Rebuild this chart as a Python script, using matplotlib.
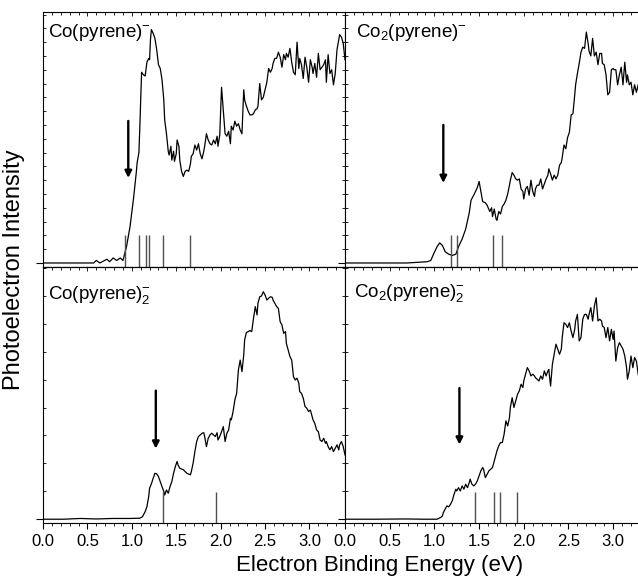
"""
Photoelectron spectra of Co(pyrene) and Co2(pyrene) anion clusters,
four panels sharing the binding energy axis.
"""

import matplotlib.pyplot as plt
import numpy
from matplotlib.ticker import MultipleLocator, FormatStrFormatter

plt.rcParams['font.family'] = ['Liberation Sans', 'DejaVu Sans']
plt.rcParams['mathtext.fontset'] = 'custom'
plt.rcParams['mathtext.rm'] = 'Liberation Sans'
plt.rcParams['mathtext.it'] = 'Liberation Sans:italic'

# Co(pyrene)-  (energy in eV, intensity in arb. units)
e_co_py = [0.00, 0.23, 0.42, 0.57, 0.60, 0.64, 0.72, 0.75, 0.79, 0.83, 0.87, 0.90,
           0.94, 0.98, 1.02, 1.05, 1.06, 1.08, 1.09, 1.11, 1.13, 1.15, 1.17, 1.19,
           1.20, 1.21, 1.22, 1.24, 1.26, 1.28, 1.30, 1.32, 1.34, 1.36, 1.37, 1.39,
           1.41, 1.42, 1.44, 1.45, 1.47, 1.48, 1.50, 1.51, 1.53, 1.54, 1.56, 1.58,
           1.60, 1.62, 1.64, 1.66, 1.67, 1.69, 1.71, 1.73, 1.75, 1.77, 1.79, 1.81,
           1.82, 1.84, 1.86, 1.88, 1.90, 1.92, 1.94, 1.96, 1.97, 1.99, 2.01, 2.03,
           2.05, 2.07, 2.09, 2.11, 2.12, 2.14, 2.16, 2.18, 2.20, 2.22, 2.24, 2.26,
           2.27, 2.29, 2.31, 2.33, 2.35, 2.37, 2.39, 2.41, 2.42, 2.44, 2.46, 2.48,
           2.50, 2.52, 2.54, 2.56, 2.58, 2.59, 2.61, 2.63, 2.65, 2.67, 2.69, 2.71,
           2.73, 2.74, 2.76, 2.78, 2.80, 2.82, 2.84, 2.86, 2.88, 2.89, 2.91, 2.93,
           2.95, 2.97, 2.99, 3.01, 3.03, 3.04, 3.06, 3.08, 3.10, 3.12, 3.14, 3.16,
           3.18, 3.19, 3.21, 3.23, 3.25, 3.27, 3.29, 3.31, 3.33, 3.34, 3.36, 3.38,
           3.40]
i_co_py = [0, 0, 0, 0, 1, 0, 1.5, 0.5, 2, 1, 2, 1,
           6.5, 14.5, 26, 36, 40, 44, 54, 76, 75, 74.5, 80, 81.5,
           81, 89, 93, 91.5, 89.5, 85, 79, 77.5, 73, 65, 57, 51.5,
           44.5, 43, 46.5, 41, 44.5, 40.5, 43.5, 49, 46.5, 41, 36.5, 34.5,
           36.5, 37, 36.5, 39.5, 42.5, 43.5, 47, 45, 47.5, 43.5, 41.5, 44.5,
           46.5, 51.5, 49, 47.5, 47, 49, 47.5, 50.5, 46.5, 51, 70, 61,
           51.5, 50.5, 52.5, 47.5, 54.5, 53, 56.5, 54.5, 55.5, 53, 51.5, 69,
           65, 62.5, 60.5, 59, 59, 59.5, 61, 61.5, 62.5, 71.5, 65, 66,
           69, 72, 77.5, 76, 77.5, 79.5, 81.5, 81.5, 84, 82, 78, 83,
           81, 83.5, 82, 85.5, 80, 76, 75, 88, 77.5, 81.5, 79, 73.5,
           82, 78, 72, 81, 78, 75.5, 79.5, 74, 83.5, 77, 78, 79,
           81, 72, 83, 75.5, 77, 71, 75.5, 85, 89, 91, 90, 87.5,
           81]

# Co2(pyrene)-
e_co2_py = [0.00, 0.32, 0.69, 0.92, 0.96, 0.99, 1.03, 1.06, 1.09, 1.12, 1.16, 1.20,
            1.24, 1.27, 1.31, 1.35, 1.39, 1.41, 1.44, 1.48, 1.50, 1.52, 1.54, 1.57,
            1.59, 1.62, 1.64, 1.65, 1.67, 1.69, 1.70, 1.72, 1.74, 1.76, 1.78, 1.80,
            1.82, 1.84, 1.85, 1.87, 1.89, 1.91, 1.93, 1.95, 1.97, 1.99, 2.00, 2.02,
            2.04, 2.06, 2.08, 2.10, 2.12, 2.13, 2.15, 2.17, 2.19, 2.21, 2.23, 2.25,
            2.27, 2.28, 2.30, 2.32, 2.34, 2.36, 2.38, 2.40, 2.42, 2.43, 2.45, 2.47,
            2.49, 2.51, 2.53, 2.55, 2.57, 2.58, 2.60, 2.62, 2.64, 2.66, 2.68, 2.70,
            2.72, 2.73, 2.75, 2.77, 2.79, 2.81, 2.83, 2.85, 2.87, 2.88, 2.90, 2.92,
            2.94, 2.96, 2.98, 3.00, 3.01, 3.03, 3.05, 3.07, 3.09, 3.11, 3.13, 3.15,
            3.16, 3.18, 3.20, 3.22, 3.24, 3.26, 3.28]
i_co2_py = [0, 0, 0, 0.5, 1, 3.5, 6.5, 8, 7, 4.5, 3.5, 3,
            3.5, 6.5, 9.5, 13.5, 20, 25, 27, 30, 32.5, 28.5, 24.5, 24,
            23, 20.5, 22, 18.5, 21.5, 17.5, 17, 20.5, 19.5, 22.5, 23.5, 25,
            27.5, 31, 33, 36, 35, 33.5, 33, 33.5, 29.5, 28.5, 25.5, 29.5,
            30.5, 27, 33, 28.5, 26.5, 29.5, 31, 31, 33.5, 29.5, 31.5, 33.5,
            35, 37.5, 35.5, 33, 35, 33.5, 35, 39, 40, 42, 47, 45.5,
            50, 52, 59, 59.5, 67, 71, 75.5, 79.5, 84, 86, 85.5, 92,
            87.5, 84.5, 82.5, 89.5, 82.5, 84, 79, 83.5, 83.5, 79.5, 79, 75,
            67, 68, 77, 77.5, 77, 77, 71, 75, 78, 71, 80, 72,
            75, 71, 72, 67, 71, 68, 71]

# Co(pyrene)2-
e_co_py2 = [0.00, 0.23, 0.42, 0.60, 0.79, 0.98, 1.09, 1.12, 1.15, 1.17, 1.19, 1.20,
            1.22, 1.24, 1.26, 1.28, 1.30, 1.32, 1.34, 1.36, 1.37, 1.39, 1.41, 1.43,
            1.45, 1.47, 1.49, 1.51, 1.52, 1.54, 1.58, 1.62, 1.66, 1.67, 1.69, 1.71,
            1.73, 1.75, 1.77, 1.79, 1.81, 1.82, 1.84, 1.86, 1.88, 1.90, 1.92, 1.94,
            1.96, 1.97, 1.99, 2.01, 2.03, 2.05, 2.07, 2.09, 2.11, 2.12, 2.14, 2.16,
            2.18, 2.20, 2.22, 2.24, 2.26, 2.27, 2.29, 2.31, 2.33, 2.35, 2.37, 2.39,
            2.41, 2.42, 2.44, 2.46, 2.48, 2.50, 2.52, 2.54, 2.56, 2.58, 2.59, 2.61,
            2.63, 2.65, 2.67, 2.69, 2.71, 2.73, 2.74, 2.76, 2.78, 2.80, 2.82, 2.84,
            2.86, 2.88, 2.89, 2.91, 2.93, 2.95, 2.97, 2.99, 3.01, 3.03, 3.04, 3.06,
            3.08, 3.10, 3.12, 3.14, 3.16, 3.18, 3.19, 3.21, 3.23, 3.25, 3.27, 3.29,
            3.31, 3.33, 3.34, 3.36, 3.38, 3.40]
i_co_py2 = [0, 0, 0.3, 0.1, 0.3, 0.3, 0.4, 1, 3, 5, 9, 12.3,
            14, 16.2, 18.2, 18, 16.9, 14.9, 12.9, 11, 9.6, 11.6, 10.3, 12.9,
            14.9, 18.2, 20.9, 22.9, 21.5, 20.2, 19.6, 18.2, 17.6, 18.9, 22.2, 26.8,
            30.8, 32.8, 33.4, 34.1, 34.3, 32.8, 28.8, 32.1, 33.4, 34.1, 33.4, 32.8,
            34.3, 31.4, 32.8, 34.7, 36.7, 30.8, 34.1, 35.4, 40, 39.4, 42.7, 47.3,
            49.9, 59.2, 63.1, 58.5, 65.1, 71.1, 74, 74.4, 74.8, 74.4, 79.7, 84.3,
            81, 85.6, 88.2, 88.5, 90.2, 88.9, 86.9, 87.6, 88.2, 88, 86.9, 85.6,
            84.3, 83.6, 78.3, 77, 73.7, 74.4, 69.7, 67.1, 64.5, 63.1, 56.5, 55.2,
            55.9, 53.9, 50.6, 49.9, 48, 44.7, 44, 42.7, 43.3, 40.7, 39.4, 38,
            35.4, 34.7, 31.4, 30.8, 32.1, 30.1, 30.8, 28.8, 27.5, 28.8, 26.8, 28.1,
            29.5, 27.5, 29.5, 30.8, 28.8, 25.5]

# Co2(pyrene)2-
e_co2_py2 = [0.00, 0.32, 0.69, 0.88, 1.03, 1.07, 1.09, 1.10, 1.12, 1.14, 1.16, 1.18,
             1.20, 1.22, 1.24, 1.25, 1.27, 1.29, 1.31, 1.33, 1.35, 1.37, 1.39, 1.40,
             1.42, 1.44, 1.46, 1.48, 1.50, 1.52, 1.54, 1.55, 1.57, 1.59, 1.61, 1.63,
             1.65, 1.67, 1.69, 1.70, 1.72, 1.74, 1.76, 1.78, 1.80, 1.82, 1.84, 1.85,
             1.87, 1.89, 1.91, 1.93, 1.95, 1.97, 1.99, 2.00, 2.02, 2.04, 2.06, 2.08,
             2.10, 2.12, 2.13, 2.15, 2.17, 2.19, 2.21, 2.23, 2.25, 2.27, 2.28, 2.30,
             2.32, 2.34, 2.36, 2.38, 2.40, 2.42, 2.43, 2.45, 2.47, 2.49, 2.51, 2.53,
             2.55, 2.57, 2.58, 2.60, 2.62, 2.64, 2.66, 2.68, 2.70, 2.72, 2.73, 2.75,
             2.77, 2.79, 2.81, 2.83, 2.85, 2.87, 2.88, 2.90, 2.92, 2.94, 2.96, 2.98,
             3.00, 3.01, 3.03, 3.05, 3.07, 3.09, 3.11, 3.13, 3.15, 3.16, 3.18, 3.20,
             3.22, 3.24, 3.26, 3.28, 3.30]
i_co2_py2 = [0, 0, 0.1, 0, 0, 0.7, 1.3, 2.6, 4, 5.3, 4.9, 5.9,
             7.3, 9.9, 11.9, 11.2, 12.5, 11.2, 13.2, 11.9, 13.9, 12.5, 14.5, 15.9,
             13.9, 13.2, 13.9, 15.2, 17.2, 19.2, 20.5, 19.8, 16.5, 17.8, 19.2, 19.8,
             20.5, 23.1, 25.8, 27.1, 29.1, 30.4, 30.4, 33.7, 39, 37, 40.3, 44.3,
             48.2, 44.3, 46.9, 49.5, 50.9, 53.5, 52.2, 54.8, 57.5, 60.1, 58.8, 56.8,
             57.5, 56.8, 56.1, 55.5, 54.8, 56.8, 55.5, 58.8, 56.8, 58.8, 59.4, 52.8,
             61.4, 65.4, 69.4, 67.4, 65.4, 67.4, 72, 77.9, 77.3, 76, 77.9, 74.6,
             72, 75.3, 78.6, 81.2, 70.7, 72, 79.3, 81.2, 81.2, 79.3, 81.2, 83.9,
             78.6, 84.5, 87.8, 78.6, 79.3, 78.6, 76.6, 76, 72, 76, 70.7, 75.3,
             71.3, 74.6, 62.7, 68, 70, 68.7, 67.4, 64.7, 60.1, 55.5, 58.8, 64.7,
             60.1, 64.1, 62.7, 57.5, 54.2]

# calculated detachment energies (sticks) and experimental thresholds (arrows), eV
sticks_co_py = [0.92, 1.08, 1.16, 1.19, 1.35, 1.66]
sticks_co2_py = [1.19, 1.25, 1.66, 1.76]
sticks_co_py2 = [1.35, 1.95]
sticks_co2_py2 = [1.45, 1.67, 1.73, 1.92]
arrows_e = [0.96, 1.10, 1.27, 1.28]

labels = ['Co(pyrene)$^{-}$', 'Co$_{2}$(pyrene)$^{-}$',
          'Co(pyrene)$_{2}^{-}$', 'Co$_{2}$(pyrene)$_{2}^{-}$']

fig = plt.figure(figsize=(6.38, 5.77), dpi=100)
W, H = 638.0, 577.0
pw = 302 / W
boxes = [[43 / W, 310 / H, pw, 255 / H],
         [345 / W, 310 / H, pw + 0.003, 255 / H],
         [43 / W, 54 / H, pw, 256 / H],
         [345 / W, 54 / H, pw + 0.003, 256 / H]]

energies = [e_co_py, e_co2_py, e_co_py2, e_co2_py2]
intens = [i_co_py, i_co2_py, i_co_py2, i_co2_py2]
sticks = [sticks_co_py, sticks_co2_py, sticks_co_py2, sticks_co2_py2]
arrow_y = [(56.6, 33.9), (55.0, 31.9), (51.0, 28.0), (52.0, 29.6)]
label_pos = [(0.015, 0.92), (0.035, 0.92), (0.015, 0.89), (0.028, 0.90)]

for k in range(4):
    ax = fig.add_axes(boxes[k])
    top = k < 2
    ylo = -1.6 if top else -1.5
    ax.plot(energies[k], intens[k], color='black', lw=0.9)
    ax.vlines(sticks[k], ylo, 11.2 if top else 10.6, color='#505050', lw=1.0)
    ax.annotate('', xy=(arrows_e[k], arrow_y[k][1]), xytext=(arrows_e[k], arrow_y[k][0]),
                arrowprops=dict(arrowstyle='-|>', color='black', lw=1.7,
                                mutation_scale=10, shrinkA=0, shrinkB=0))
    ax.text(label_pos[k][0], label_pos[k][1], labels[k], transform=ax.transAxes,
            fontsize=13.5, ha='left', va='center')
    ax.set_xlim(0, 3.4)
    ax.set_ylim(ylo, 100)

    for sp in ax.spines.values():
        sp.set_linewidth(0.8)

    # y ticks: one at the baseline, dense minor ones above it
    step = 5.5 if top else 11.07
    ax.set_yticks([0])
    ax.set_yticks(numpy.arange(step, 100, step), minor=True)
    ax.tick_params(axis='y', which='both', left=True, right=True,
                   labelleft=False, labelright=False)
    ax.tick_params(axis='y', which='major', direction='out', length=5, width=0.8)
    ax.tick_params(axis='y', which='minor', direction='in', length=2.2, width=0.6)

    ax.xaxis.set_major_locator(MultipleLocator(0.5))
    ax.xaxis.set_minor_locator(MultipleLocator(0.1))
    if top:
        ax.tick_params(axis='x', which='both', top=True, bottom=False,
                       labelbottom=False, direction='in', width=0.6)
        ax.tick_params(axis='x', which='major', length=3)
        ax.tick_params(axis='x', which='minor', length=2)
    else:
        ax.xaxis.set_major_formatter(FormatStrFormatter('%.1f'))
        ax.tick_params(axis='x', which='both', top=False, direction='out',
                       labelsize=12, pad=4)
        ax.tick_params(axis='x', which='major', length=4, width=0.8)
        ax.tick_params(axis='x', which='minor', length=2.5, width=0.6)
        sec = ax.secondary_xaxis('top')
        sec.xaxis.set_major_locator(MultipleLocator(0.5))
        sec.xaxis.set_minor_locator(MultipleLocator(0.1))
        sec.tick_params(axis='x', which='both', direction='in', labeltop=False,
                        width=0.6)
        sec.tick_params(axis='x', which='major', length=3)
        sec.tick_params(axis='x', which='minor', length=2)
        sec.spines['top'].set_linewidth(0.8)

fig.text(14 / W, 1 - 270 / H, 'Photoelectron Intensity', rotation=90,
         ha='center', va='center', fontsize=17)
fig.text(380 / W, 1 - 571 / H, 'Electron Binding Energy (eV)',
         ha='center', va='baseline', fontsize=16)

fig.savefig('out.png', dpi=100)
